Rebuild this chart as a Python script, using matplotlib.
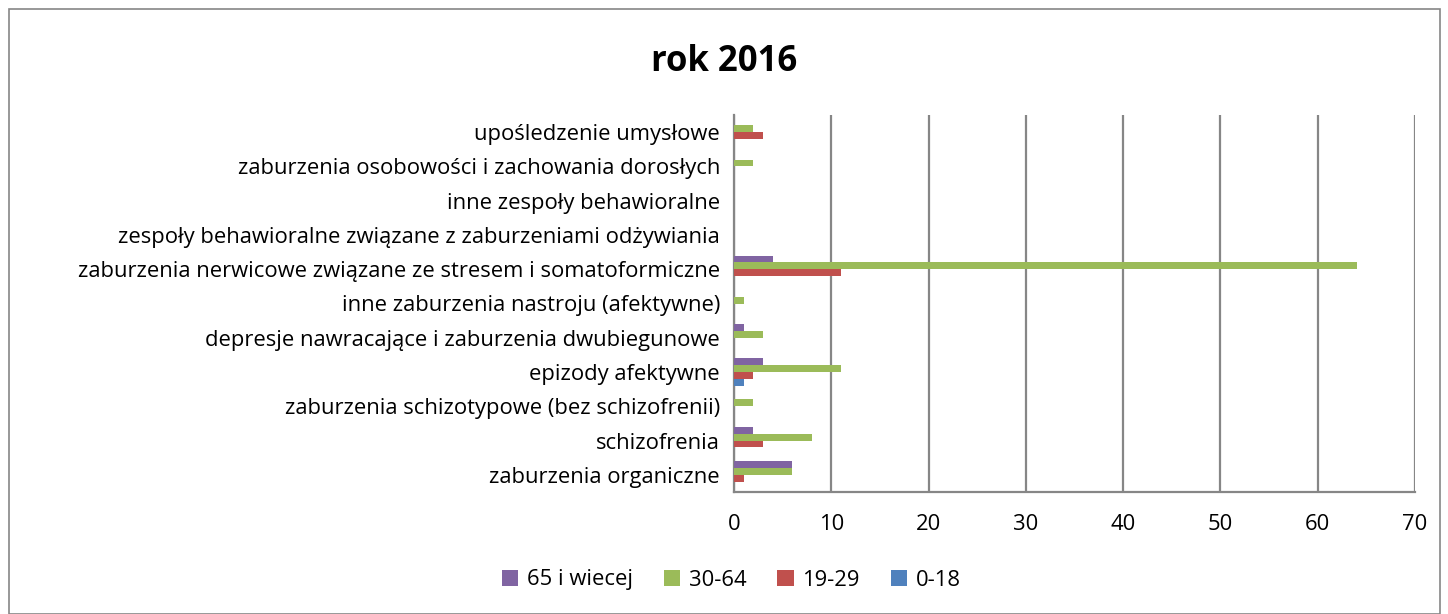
import numpy as np
import matplotlib.pyplot as plt
from matplotlib.patches import Rectangle

plt.rcParams['font.family'] = ['Open Sans', 'DejaVu Sans']

categories = [
    "zaburzenia organiczne",
    "schizofrenia",
    "zaburzenia schizotypowe (bez schizofrenii)",
    "epizody afektywne",
    "depresje nawracające i zaburzenia dwubiegunowe",
    "inne zaburzenia nastroju (afektywne)",
    "zaburzenia nerwicowe związane ze stresem i somatoformiczne",
    "zespoły behawioralne związane z zaburzeniami odżywiania",
    "inne zespoły behawioralne",
    "zaburzenia osobowości i zachowania dorosłych",
    "upośledzenie umysłowe",
]
# series from bottom bar to top bar in each group
s_0_18 = [0, 0, 0, 1, 0, 0, 0, 0, 0, 0, 0]
s_19_29 = [1, 3, 0, 2, 0, 0, 11, 0, 0, 0, 3]
s_30_64 = [6, 8, 2, 11, 3, 1, 64, 0, 0, 2, 2]
s_65 = [6, 2, 0, 3, 1, 0, 4, 0, 0, 0, 0]

series = [("0-18", s_0_18, "#4F81BD"),
          ("19-29", s_19_29, "#C0504D"),
          ("30-64", s_30_64, "#9BBB59"),
          ("65 i wiecej", s_65, "#8064A2")]

fig = plt.figure(figsize=(14.48, 6.14), dpi=100)
ax = fig.add_axes([734 / 1448, 1 - 492 / 614, (1415 - 734) / 1448, (492 - 115) / 614])

y = np.arange(len(categories))
h = 0.2
bars = []
for i, (name, vals, col) in enumerate(series):
    b = ax.barh(y + (i - 1.5) * h, vals, height=h, color=col, label=name, zorder=3)
    bars.append(b)

ax.set_xlim(0, 70)
ax.set_ylim(-0.5, len(categories) - 0.5)
ax.set_xticks(range(0, 71, 10))
ax.set_yticks(y)
ax.set_yticklabels(categories)
ax.tick_params(axis='both', length=0, labelsize=15.8)
ax.tick_params(axis='y', pad=10)
ax.tick_params(axis='x', pad=16)
ax.grid(axis='x', color='#868686', linewidth=1.6, zorder=0)
for s in ['top', 'right']:
    ax.spines[s].set_visible(False)
for s in ['left', 'bottom']:
    ax.spines[s].set_color('#868686')
    ax.spines[s].set_linewidth(1.6)

fig.text(0.5, 1 - 62 / 614, "rok 2016", ha='center', va='center',
         fontsize=25, fontweight='bold')

handles = bars[::-1]
fig.legend(handles, [s[0] for s in series[::-1]], loc='center',
           bbox_to_anchor=(0.505, 1 - 580 / 614), ncol=4, frameon=False,
           fontsize=15.8, handlelength=0.75, handleheight=0.75, columnspacing=1.4,
           handletextpad=0.4)

fig.patches.append(Rectangle((9 / 1448, 0.0), 1 - 17 / 1448, 1 - 9 / 614,
                             transform=fig.transFigure, fill=False,
                             edgecolor='#868686', linewidth=1.2))

fig.savefig("out.png", dpi=100)
